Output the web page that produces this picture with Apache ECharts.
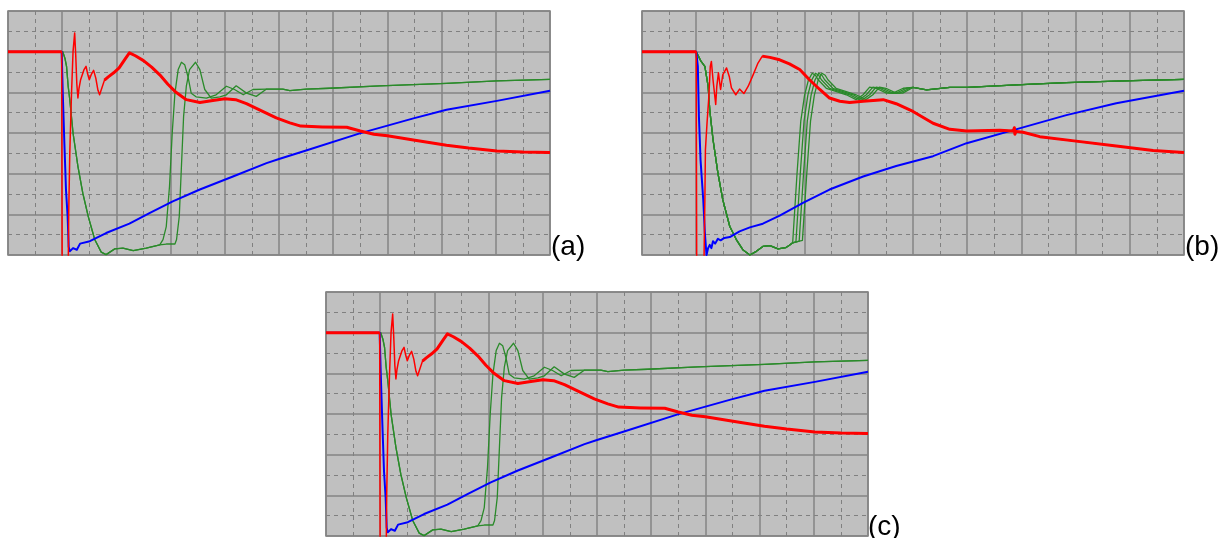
<!DOCTYPE html>
<html>
<head>
<meta charset="utf-8">
<script src="https://cdn.jsdelivr.net/npm/echarts@6/dist/echarts.min.js"></script>
<style>
html,body{margin:0;padding:0;background:#fff;}
#chart{width:1218px;height:538px;}
</style>
</head>
<body>
<div id="chart"></div>
<script>
// ---- axis settings (divisions) ----
var xDivisions = [0, 10];
var yDivisions = [0, 6];
var panelLabels = ['(a)', '(b)', '(c)'];

// ---- panel (a) ----
var redA = [[0,5.0],[0.99,5.0],[1.0,-0.5],[1.11,-0.5],[1.12,1.0],[1.14,2.5],[1.17,3.9],[1.2,5.0],[1.23,5.46],[1.25,4.9],[1.27,4.2],[1.29,3.86],[1.31,4.1],[1.34,4.31],[1.37,4.35],[1.4,4.55],[1.44,4.64],[1.47,4.45],[1.5,4.31],[1.54,4.45],[1.58,4.54],[1.62,4.35],[1.66,4.05],[1.69,3.94],[1.73,4.1],[1.78,4.3],[1.85,4.38],[1.95,4.48],[2.05,4.6],[2.15,4.8],[2.24,4.97],[2.35,4.9],[2.5,4.78],[2.65,4.62],[2.8,4.43],[2.95,4.2],[3.1,4.0],[3.29,3.82],[3.54,3.75],[3.78,3.8],[4.0,3.84],[4.2,3.82],[4.4,3.72],[4.64,3.57],[4.95,3.37],[5.2,3.25],[5.4,3.17],[5.8,3.15],[6.25,3.14],[6.5,3.05],[6.75,2.97],[7.0,2.93],[7.48,2.83],[8.09,2.70],[8.5,2.63],[9.02,2.56],[9.5,2.53],[10,2.52]];
var blueA = [[0,5.0],[0.99,5.0],[1.01,4.0],[1.04,2.75],[1.07,1.6],[1.1,0.95],[1.12,0.2],[1.14,0.09],[1.2,0.17],[1.23,0.21],[1.27,0.13],[1.33,0.28],[1.51,0.34],[1.81,0.54],[2.24,0.77],[2.61,1.03],[3.04,1.32],[3.54,1.61],[4.15,1.93],[4.77,2.26],[5.0,2.36],[5.5,2.57],[6.49,2.99],[7.48,3.36],[8.09,3.57],[9.02,3.79],[10,4.04]];
var greenA_descent = [[0,5.0],[1.01,5.0],[1.05,4.84],[1.08,4.64],[1.11,4.15],[1.14,3.82],[1.2,3.0],[1.29,2.18],[1.38,1.52],[1.48,0.95],[1.6,0.38],[1.72,0.07],[1.81,0.01],[1.97,0.15],[2.12,0.17],[2.31,0.11],[2.55,0.17],[2.8,0.25]];
var greenA1_rise = [[2.86,0.38],[2.92,0.7],[2.98,1.69],[3.03,3.0],[3.08,3.98],[3.14,4.56],[3.2,4.74],[3.26,4.68],[3.32,4.39],[3.38,3.98],[3.47,3.89],[3.66,3.86],[3.84,3.94],[4.03,4.15],[4.18,4.07],[4.34,3.94],[4.52,4.07],[4.77,4.08]];
var greenA2_rise = [[2.92,0.27],[3.08,0.27],[3.11,0.38],[3.16,0.95],[3.2,2.18],[3.24,3.41],[3.29,4.15],[3.35,4.56],[3.46,4.74],[3.54,4.56],[3.63,4.07],[3.75,3.86],[3.91,3.89],[4.03,3.94],[4.21,4.16],[4.4,3.98],[4.58,3.9],[4.77,4.08]];
var greenA_settle = [[5.07,4.08],[5.2,4.04],[5.5,4.08],[5.94,4.10],[6.86,4.16],[8.09,4.22],[9.02,4.28],[10,4.32]];

// ---- panel (b) ----
var redB = [[0,5.0],[1.0,5.0],[1.01,-0.5],[1.14,-0.5],[1.16,1.36],[1.17,2.59],[1.2,3.25],[1.23,3.82],[1.26,4.64],[1.28,4.76],[1.31,4.31],[1.36,3.70],[1.38,4.15],[1.41,4.48],[1.45,4.07],[1.49,4.43],[1.56,4.6],[1.61,4.39],[1.65,4.11],[1.73,3.94],[1.8,4.08],[1.88,3.97],[1.96,4.15],[2.05,4.43],[2.14,4.72],[2.22,4.89],[2.36,4.86],[2.54,4.8],[2.72,4.7],[2.91,4.56],[3.09,4.31],[3.28,4.07],[3.46,3.86],[3.65,3.78],[3.83,3.75],[4.08,3.78],[4.45,3.82],[4.69,3.72],[5.0,3.53],[5.37,3.24],[5.68,3.09],[5.99,3.05],[6.6,3.07],[6.85,3.05],[6.87,3.13],[6.88,2.97],[6.9,3.04],[7.03,3.02],[7.34,2.91],[8.01,2.80],[8.75,2.68],[9.43,2.57],[10,2.52]];
var blueB = [[0,5.0],[1.0,5.0],[1.03,4.64],[1.05,3.41],[1.08,2.34],[1.13,1.36],[1.16,0.54],[1.19,0.0],[1.22,0.17],[1.25,0.25],[1.28,0.17],[1.31,0.34],[1.35,0.28],[1.4,0.4],[1.45,0.36],[1.52,0.42],[1.62,0.44],[1.8,0.58],[1.99,0.68],[2.23,0.77],[2.54,0.97],[2.97,1.28],[3.46,1.61],[4.08,1.93],[4.69,2.19],[5.37,2.43],[5.99,2.75],[6.85,3.07],[7.83,3.44],[8.75,3.73],[10,4.04]];
var greenB_descent = [[0,5.0],[1.0,5.0],[1.03,4.97],[1.09,4.76],[1.16,4.64],[1.22,4.15],[1.25,3.57],[1.31,2.84],[1.4,2.02],[1.49,1.36],[1.62,0.7],[1.74,0.38],[1.86,0.13],[1.99,0.0],[2.11,0.09],[2.23,0.21],[2.36,0.23],[2.51,0.15],[2.65,0.18],[2.72,0.24],[2.78,0.3]];
var greenB1_rise = [[2.86,2.0],[2.93,3.3],[3.0,3.93],[3.07,4.3],[3.14,4.47],[3.2,4.42],[3.25,4.31],[3.4,4.1],[3.59,4.02],[3.77,3.94],[3.95,3.82],[4.08,3.94],[4.2,4.13],[4.32,4.1],[4.51,3.98],[4.63,3.98],[4.82,4.1]];
var greenB2_rise = [[2.84,0.32],[2.92,2.0],[2.99,3.3],[3.06,3.93],[3.13,4.3],[3.2,4.47],[3.26,4.42],[3.31,4.31],[3.46,4.1],[3.65,4.02],[3.83,3.94],[4.01,3.82],[4.14,3.94],[4.26,4.13],[4.38,4.1],[4.57,3.98],[4.69,3.98],[4.88,4.1]];
var greenB3_rise = [[2.9,0.34],[2.98,2.0],[3.05,3.3],[3.12,3.93],[3.19,4.3],[3.26,4.47],[3.32,4.42],[3.37,4.31],[3.52,4.1],[3.71,4.02],[3.89,3.94],[4.07,3.82],[4.2,3.94],[4.32,4.13],[4.44,4.1],[4.63,3.98],[4.75,3.98],[4.94,4.1]];
var greenB4_rise = [[2.96,0.36],[3.04,2.0],[3.11,3.3],[3.18,3.93],[3.25,4.3],[3.32,4.47],[3.38,4.42],[3.43,4.31],[3.58,4.1],[3.77,4.02],[3.95,3.94],[4.13,3.82],[4.26,3.94],[4.38,4.13],[4.5,4.1],[4.69,3.98],[4.81,3.98]];
var greenB_settle = [[5.0,4.12],[5.25,4.06],[5.68,4.12],[6.0,4.12],[6.54,4.16],[7.2,4.2],[7.83,4.24],[9.06,4.29],[10,4.32]];

// ---- panel (c) (same record as (a)) ----
var redC = redA;
var blueC = blueA;
var greenC1 = greenA_descent.concat(greenA1_rise, greenA_settle);
var greenC2 = greenA_descent.concat(greenA2_rise, greenA_settle);

var RED = '#ff0000', BLUE = '#0000ff', GREEN = '#2a8a2a';

var panels = [
  {left: 8, top: 11, label: panelLabels[0], lx: 551, ly: 247,
   red: redA, redDrop: 0.99, redCut: 1.78, blue: blueA,
   greens: [greenA_descent.concat(greenA1_rise, greenA_settle), greenA_descent.concat(greenA2_rise, greenA_settle)]},
  {left: 642, top: 11, label: panelLabels[1], lx: 1185, ly: 247,
   red: redB, redDrop: 1.0, redCut: 2.2, blue: blueB,
   greens: [greenB_descent.concat(greenB1_rise, greenB_settle), greenB_descent.concat(greenB2_rise, greenB_settle),
            greenB_descent.concat(greenB3_rise, greenB_settle), greenB_descent.concat(greenB4_rise, greenB_settle)]},
  {left: 326, top: 292, label: panelLabels[2], lx: 868, ly: 527,
   red: redC, redDrop: 0.99, redCut: 1.78, blue: blueC, greens: [greenC1, greenC2]}
];

var grids = [], xAxes = [], yAxes = [], series = [], graphics = [];
panels.forEach(function (p, i) {
  grids.push({left: p.left, top: p.top, width: 542, height: 244, show: true,
    backgroundColor: '#c0c0c0', borderColor: '#808080', borderWidth: 1.5, containLabel: false});
  var common = {
    type: 'value', gridIndex: i, interval: 1,
    axisLine: {show: false}, axisTick: {show: false}, axisLabel: {show: false},
    splitLine: {show: true, lineStyle: {color: '#858585', width: 1.5}},
    minorTick: {show: false, splitNumber: 2},
    minorSplitLine: {show: true, lineStyle: {color: '#808080', width: 1, type: [4, 4]}}
  };
  xAxes.push(Object.assign({min: xDivisions[0], max: xDivisions[1]}, common));
  yAxes.push(Object.assign({min: yDivisions[0], max: yDivisions[1]}, common));

  function ln(data, color, width, z) {
    return {type: 'line', xAxisIndex: i, yAxisIndex: i, data: data, symbol: 'none', showSymbol: false,
      clip: true, animation: false, silent: true, z: z,
      lineStyle: {color: color, width: width, join: 'round'}, itemStyle: {color: color}};
  }
  p.greens.forEach(function (g) { series.push(ln(g, GREEN, 1.3, 2)); });
  series.push(ln(p.blue, BLUE, 2, 3));
  series.push(ln(p.red, RED, 1.5, 4));
  var thick = p.red.map(function (pt) {
    return (pt[0] <= p.redDrop || pt[0] >= p.redCut) ? pt : [pt[0], '-'];
  });
  series.push(ln(thick, RED, 3, 5));

  graphics.push({type: 'text', left: p.lx, top: p.ly - 14, silent: true,
    style: {text: p.label, fontSize: 28, fontFamily: 'Arial, "Liberation Sans", sans-serif', fill: '#000'}});
});

var chart = echarts.init(document.getElementById('chart'), null, {renderer: 'canvas'});
chart.setOption({
  animation: false,
  backgroundColor: '#ffffff',
  grid: grids, xAxis: xAxes, yAxis: yAxes, series: series, graphic: graphics
});
</script>
</body>
</html>
